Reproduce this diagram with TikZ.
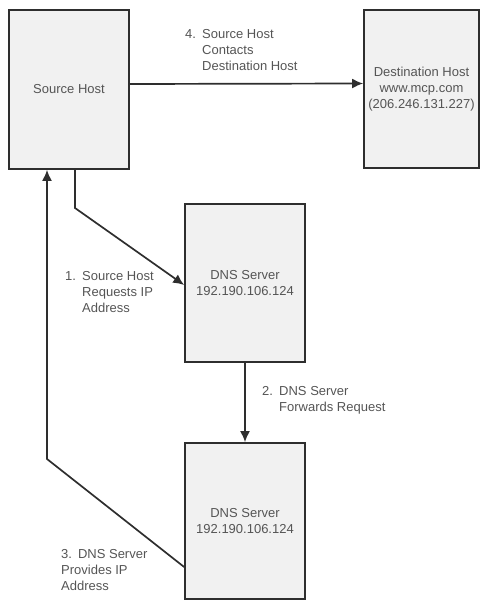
\documentclass[tikz,border=0pt]{standalone}
\usepackage{fontspec}
\setmainfont{Liberation Sans}
\usetikzlibrary{arrows.meta}
\definecolor{boxfill}{HTML}{F1F1F1}
\definecolor{edge}{HTML}{2E2E2E}
\definecolor{ink}{HTML}{555555}
\newcommand{\numlbl}[1]{\makebox[17pt][l]{#1}}
\begin{document}
\begin{tikzpicture}[x=1pt,y=-1pt,
  hostbox/.style={draw=edge, fill=boxfill, line width=1.7pt, inner sep=0pt,
    align=center, text=ink, font=\fontsize{13}{16}\selectfont},
  steplabel/.style={inner sep=0pt, anchor=base west, text=ink,
    font=\fontsize{13}{16}\selectfont, align=left},
  flow/.style={draw=edge, line width=1.7pt,
    -{Latex[length=11pt,width=10pt]}}]
  \useasboundingbox (0,0) rectangle (480,601);

  % boxes
  \node[hostbox, minimum width=120pt, minimum height=159pt] (src) at (69,89.5) {Source Host};
  \node[hostbox, minimum width=115pt, minimum height=158pt] (dst) at (421.5,89)
    {Destination Host\\www.mcp.com\\(206.246.131.227)};
  \node[hostbox, minimum width=120pt, minimum height=158pt] (dns1) at (245,283)
    {DNS Server\\192.190.106.124};
  \node[hostbox, minimum width=120pt, minimum height=156pt] (dns2) at (245,521)
    {DNS Server\\192.190.106.124};

  % bend points of the slanted connectors
  \coordinate (b1) at (75,208);
  \coordinate (b3) at (47,459);

  % connectors
  \draw[flow] ([yshift=5.5pt]src.east) -- ([yshift=5.5pt]dst.west);
  \draw[flow] ([xshift=6pt]src.south) -- (b1) -- ([yshift=-2pt]dns1.west);
  \draw[flow] (dns1.south) -- (dns2.north);
  \draw[flow] ([yshift=-46pt]dns2.west) -- (b3) -- ([xshift=-22pt]src.south);

  % step labels
  \node[steplabel] (l4) at (185,38.5)
    {\begin{tabular}[t]{@{}l@{}}\numlbl{4.}Source Host\\\numlbl{}Contacts\\\numlbl{}Destination Host\end{tabular}};
  \node[steplabel] (l1) at (65,280.5)
    {\begin{tabular}[t]{@{}l@{}}\numlbl{1.}Source Host\\\numlbl{}Requests IP\\\numlbl{}Address\end{tabular}};
  \node[steplabel] (l2) at (262,395.5)
    {\begin{tabular}[t]{@{}l@{}}\numlbl{2.}DNS Server\\\numlbl{}Forwards Request\end{tabular}};
  \node[steplabel] (l3) at (61,558.5)
    {\begin{tabular}[t]{@{}l@{}}3.\hspace{6pt}DNS Server\\Provides IP\\Address\end{tabular}};
\end{tikzpicture}
\end{document}
